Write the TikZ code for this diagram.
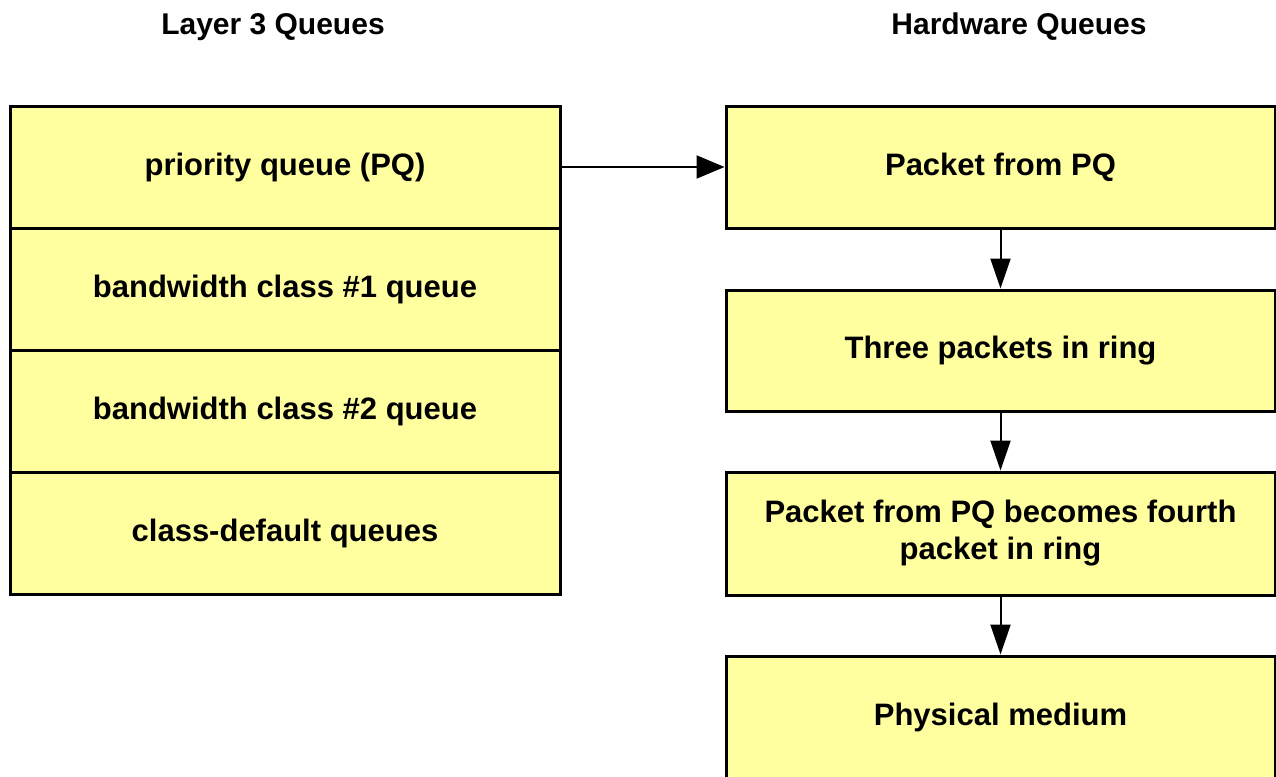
\documentclass[tikz,border=0pt]{standalone}
\usepackage{fontspec}
\setmainfont{Liberation Sans}
\usetikzlibrary{arrows.meta}
\definecolor{qyellow}{RGB}{255,255,160}
\tikzset{
  qbox/.style={draw,line width=3pt,fill=qyellow,inner sep=0pt,
    minimum width=550pt,minimum height=122pt,align=center,
    font=\fontsize{31}{37}\selectfont\bfseries},
  qtitle/.style={font=\fontsize{30}{36}\selectfont\bfseries}
}
\begin{document}
\begin{tikzpicture}[x=1pt,y=-1pt]
      \useasboundingbox (0,0) rectangle (1276,776);
      \clip (0,0) rectangle (1276,776);
      \draw
        (273,27) node[qtitle] (t0){Layer 3 Queues}
        (1019,27) node[qtitle] (t1){Hardware Queues};
      \draw
        (285,167) node[qbox] (l0){priority queue (PQ)}
        (285,289) node[qbox] (l1){bandwidth class \#1 queue}
        (285,411) node[qbox] (l2){bandwidth class \#2 queue}
        (285,533) node[qbox] (l3){class-default queues};
      \draw
        (1000.5,167) node[qbox,minimum width=549pt] (h0){Packet from PQ}
        (1000.5,350.5) node[qbox,minimum width=549pt,minimum height=121pt] (h1){Three packets in ring}
        (1000.5,533.5) node[qbox,minimum width=549pt,minimum height=123pt] (h2){Packet from PQ becomes fourth\\packet in ring}
        (1000.5,717) node[qbox,minimum width=549pt] (h3){Physical medium};
      \begin{scope}[line width=2pt]
        \draw[-{Triangle[length=28pt,width=23pt]}] (l0) to (h0);
        \draw[-{Triangle[length=30pt,width=20pt]}] (h0) to (h1);
        \draw[-{Triangle[length=30pt,width=20pt]}] (h1) to (h2);
        \draw[-{Triangle[length=30pt,width=20pt]}] (h2) to (h3);
      \end{scope}
    \end{tikzpicture}
\end{document}
